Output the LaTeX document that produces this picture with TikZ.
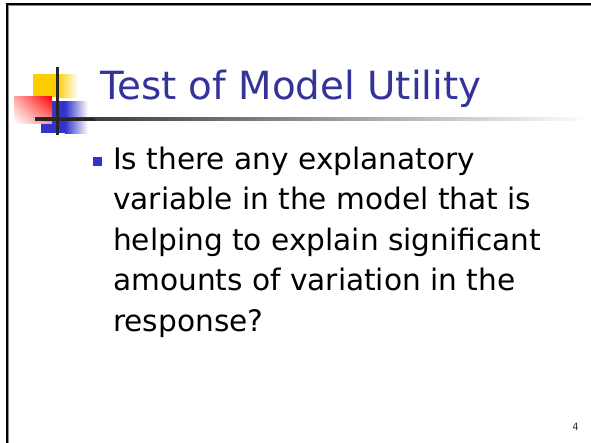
\documentclass[tikz,border=0pt]{standalone}
\usepackage{fontspec}
\usetikzlibrary{shadings}
\setmainfont{DejaVu Sans}
\definecolor{ttl}{HTML}{333399}
\definecolor{ylw}{HTML}{FFCC00}
\definecolor{blu}{HTML}{3333CC}
\definecolor{rd}{HTML}{FF0000}
\tikzset{
  bodytext/.style={anchor=base west, inner sep=0pt, font=\fontsize{29.6}{34}\selectfont, text=black},
  titletext/.style={anchor=base west, inner sep=0pt, font=\fontsize{38.8}{44}\selectfont, text=ttl},
  logoline/.style={line width=3pt, draw=black!85}
}
\begin{document}
\begin{tikzpicture}[x=1pt,y=-1pt]
\useasboundingbox (0,0) rectangle (591,442);
\fill[white] (0,0) rectangle (591,442);
% frame
\draw[line width=1pt, black!45] (8.5,460) -- (8.5,5.5) -- (600,5.5);
\draw[line width=2pt, black] (7,460) -- (7,4) -- (600,4);
% logo
\fill[ylw] (33,74) rectangle (57,97);
\shade[left color=ylw, right color=white] (57,74) rectangle (78,97);
\fill[blu] (41,101) rectangle (65,133);
\shade[left color=blu, right color=white] (65,101) rectangle (88,133);
\shade[upper right=rd, upper left=rd!35, lower right=rd!45, lower left=white] (14,96) rectangle (52,123);
% underline fading
\shade[left color=black!85, right color=white] (35,117.5) rectangle (590,120.5);
\draw[logoline] (57,67) -- (57,135);
\draw[logoline] (35,119) -- (95,119);
% title
\node[titletext] (title) at (100,99) {Test of Model Utility};
% bullet
\fill[blu] (93,157) rectangle (102,166);
\node[bodytext] (l1) at (113,169) {Is there any explanatory};
\node[bodytext] (l2) at (113,209.5) {variable in the model that is};
\node[bodytext] (l3) at (113,250) {helping to explain significant};
\node[bodytext] (l4) at (113,290.5) {amounts of variation in the};
\node[bodytext] (l5) at (113,331) {response?};
% page number
\node[anchor=base east, inner sep=0pt, font=\fontsize{10}{12}\selectfont, text=black!80] (pg) at (579,430) {4};
\end{tikzpicture}
\end{document}
